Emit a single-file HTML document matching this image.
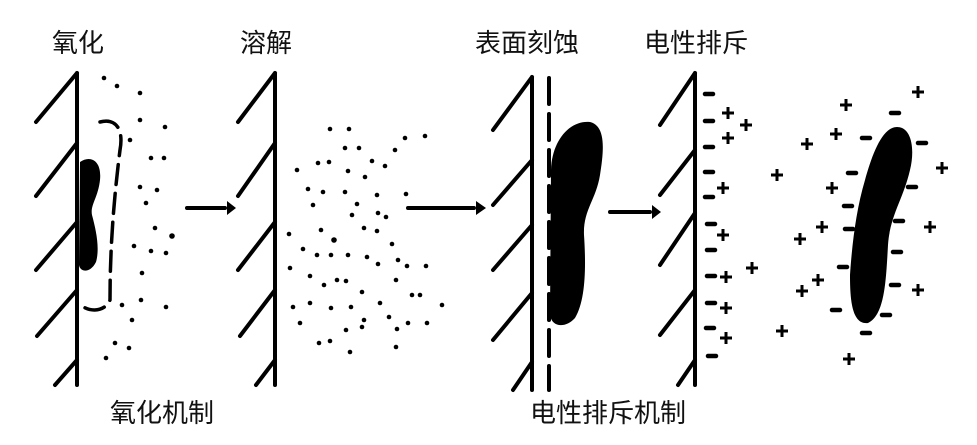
<!DOCTYPE html>
<html><head><meta charset="utf-8"><style>
html,body{margin:0;padding:0;background:#fff;width:977px;height:445px;overflow:hidden}
svg{display:block}
text{font-family:"Liberation Sans","Noto Sans CJK SC",sans-serif;font-size:26px;fill:#111}
</style></head><body>
<svg width="977" height="445" viewBox="0 0 977 445" xmlns="http://www.w3.org/2000/svg">
<g stroke="#000" stroke-width="4" fill="none" stroke-linecap="round">
<path d="M77 73V385M36 122L77 73M36 196L77 143M36 270L77 222M37 336L77 290M55 385L77 360"/>
<path d="M275 73V385M238 122L275 73M238 196L275 143M238 270L275 222M240 336L275 290M256 385L275 360"/>
<path d="M532 77V390M493 130L532 77M493 205L532 160M493 270L532 225M493 340L532 293M513 390L532 362"/>
<path d="M695 73V385M660 125L695 73M660 195L695 150M660 265L695 213M660 335L695 290M678 385L695 360"/>
<path d="M549 78V390" stroke-dasharray="26 10"/>
<path d="M100 122C115 118 124 128 120 150C115 190 110 240 110 300C105 312 90 312 82 306" stroke-width="3.5" stroke-dasharray="20 9"/>
<path d="M187 208H225M408 208H474M610 212H650"/>
</g>
<g fill="#000">
<path d="M227 201L236 208L227 215Z"/><path d="M476 201L486 208L476 215Z"/><path d="M652 205L661 212L652 219Z"/>
<path d="M80 162C90 155 102 160 100 180C98 198 90 205 92 215C96 230 100 248 96 262C90 274 80 272 79 265Z"/>
<path d="M551 170C552 140 570 120 590 122C606 126 604 150 600 175C596 200 583 210 584 235C586 265 586 300 575 318C566 328 552 328 550 315Z"/>
<path d="M897 127C912 127 915 150 910 170C903 200 890 215 888 245C886 280 885 315 868 323C852 325 850 300 850 275C852 245 856 210 865 180C872 155 882 127 897 127Z"/>
</g>
<g fill="#000">
<circle cx="104" cy="78" r="2.3"/><circle cx="117" cy="86" r="2.3"/><circle cx="140" cy="93" r="2.3"/><circle cx="140" cy="120" r="2.3"/><circle cx="165" cy="127" r="2.3"/><circle cx="130" cy="140" r="2.3"/><circle cx="151" cy="158" r="2.3"/><circle cx="164" cy="158" r="2.3"/><circle cx="140" cy="187" r="2.3"/><circle cx="157" cy="190" r="2.3"/><circle cx="146" cy="203" r="2.3"/><circle cx="155" cy="228" r="2.3"/><circle cx="172" cy="236" r="2.8"/><circle cx="134" cy="246" r="2.3"/><circle cx="151" cy="251" r="2.3"/><circle cx="166" cy="253" r="2.3"/><circle cx="142" cy="273" r="2.3"/><circle cx="122" cy="305" r="2.3"/><circle cx="141" cy="300" r="2.3"/><circle cx="166" cy="307" r="2.3"/><circle cx="132" cy="320" r="2.3"/><circle cx="115" cy="343" r="2.3"/><circle cx="129" cy="348" r="2.3"/><circle cx="106" cy="358" r="2.3"/>
<circle cx="330" cy="129" r="2.3"/><circle cx="349" cy="129" r="2.3"/><circle cx="345" cy="148" r="2.3"/><circle cx="359" cy="148" r="2.3"/><circle cx="405" cy="138" r="2.3"/><circle cx="425" cy="136" r="2.3"/><circle cx="395" cy="150" r="2.3"/><circle cx="318" cy="163" r="2.3"/><circle cx="329" cy="162" r="2.3"/><circle cx="348" cy="171" r="2.3"/><circle cx="372" cy="161" r="2.3"/><circle cx="385" cy="166" r="2.3"/><circle cx="297" cy="170" r="2.3"/><circle cx="365" cy="177" r="2.3"/><circle cx="308" cy="189" r="2.3"/><circle cx="323" cy="192" r="2.3"/><circle cx="345" cy="192" r="2.3"/><circle cx="377" cy="195" r="2.3"/><circle cx="406" cy="194" r="2.3"/><circle cx="313" cy="205" r="2.3"/><circle cx="357" cy="204" r="2.3"/><circle cx="378" cy="213" r="2.3"/><circle cx="386" cy="217" r="2.3"/><circle cx="352" cy="215" r="2.3"/><circle cx="364" cy="228" r="2.3"/><circle cx="377" cy="231" r="2.3"/><circle cx="321" cy="230" r="2.3"/><circle cx="289" cy="234" r="2.3"/><circle cx="334" cy="240" r="2.8"/><circle cx="303" cy="249" r="2.3"/><circle cx="317" cy="255" r="2.3"/><circle cx="331" cy="255" r="2.3"/><circle cx="348" cy="255" r="2.3"/><circle cx="367" cy="257" r="2.3"/><circle cx="392" cy="244" r="2.3"/><circle cx="398" cy="260" r="2.3"/><circle cx="378" cy="264" r="2.3"/><circle cx="407" cy="266" r="2.3"/><circle cx="426" cy="266" r="2.3"/><circle cx="290" cy="268" r="2.3"/><circle cx="310" cy="276" r="2.3"/><circle cx="324" cy="285" r="2.3"/><circle cx="337" cy="280" r="2.3"/><circle cx="346" cy="281" r="2.3"/><circle cx="362" cy="292" r="2.3"/><circle cx="396" cy="280" r="2.3"/><circle cx="412" cy="295" r="2.3"/><circle cx="420" cy="295" r="2.3"/><circle cx="442" cy="305" r="2.3"/><circle cx="293" cy="307" r="2.3"/><circle cx="310" cy="303" r="2.3"/><circle cx="331" cy="308" r="2.3"/><circle cx="351" cy="307" r="2.3"/><circle cx="380" cy="303" r="2.3"/><circle cx="364" cy="320" r="2.3"/><circle cx="389" cy="317" r="2.3"/><circle cx="300" cy="323" r="2.3"/><circle cx="346" cy="330" r="2.3"/><circle cx="362" cy="327" r="2.3"/><circle cx="397" cy="329" r="2.3"/><circle cx="408" cy="323" r="2.3"/><circle cx="427" cy="323" r="2.3"/><circle cx="319" cy="343" r="2.3"/><circle cx="330" cy="341" r="2.3"/><circle cx="396" cy="347" r="2.3"/><circle cx="350" cy="352" r="2.3"/>
</g>
<g stroke="#000" stroke-width="4.5" stroke-linecap="round">
<path d="M705 94h8M705 121h8M705 147h8M705 172h8M705 197h8M707 224h8M707 250h8M707 276h8M707 303h8M706 328h8M708 356h8"/>
<path d="M891 113h8M862 138h8M918 143h8M848 173h8M908 187h8M844 206h8M845 229h8M895 221h8M893 252h8M839 267h8M891 285h8M832 310h8M882 315h8M862 333h8"/>
</g>
<g stroke="#000" stroke-width="3">
<path d="M722 113h12M728 107v12 M740 125h12M746 119v12 M722 138h12M728 132v12 M717 188h12M723 182v12 M717 235h12M723 229v12 M746 268h12M752 262v12 M720 277h12M726 271v12 M720 308h12M726 302v12 M720 338h12M726 332v12"/>
<path d="M912 92h12M918 86v12 M840 105h12M846 99v12 M830 134h12M836 128v12 M801 144h12M807 138v12 M771 175h12M777 169v12 M936 168h12M942 162v12 M826 188h12M832 182v12 M816 227h12M822 221v12 M794 239h12M800 233v12 M924 227h12M930 221v12 M812 280h12M818 274v12 M796 291h12M802 285v12 M912 290h12M918 284v12 M776 331h12M782 325v12 M843 359h12M849 353v12"/>
</g>
<text x="52" y="52">氧化</text>
<text x="240" y="52">溶解</text>
<text x="475" y="52">表面刻蚀</text>
<text x="644" y="52">电性排斥</text>
<text x="110" y="422">氧化机制</text>
<text x="530" y="422">电性排斥机制</text>
</svg>
</body></html>
